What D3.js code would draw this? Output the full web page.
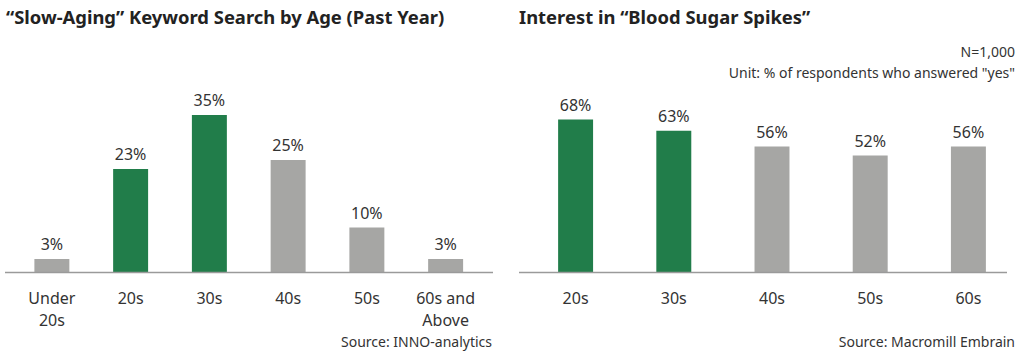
<!DOCTYPE html>
<html>
<head>
<meta charset="utf-8">
<script src="https://cdn.jsdelivr.net/npm/d3@7"></script>
<style>
	body { margin: 0; background: #fff; }
	svg text { font-family: "Noto Sans", sans-serif; fill: #333; }
	.title { font-weight: bold; font-size: 18.4px; fill: #222; }
	.val { font-size: 16px; text-anchor: middle; }
	.cat { font-size: 16px; text-anchor: middle; }
	.note { font-size: 14px; text-anchor: end; }
</style>
</head>
<body>
<div id="chart"></div>
<script>
"use strict"

// left chart: slow-aging keyword search
let ageCats = ["Under 20s", "20s", "30s", "40s", "50s", "60s and Above"];
let ageLabels = [["Under", "20s"], ["20s"], ["30s"], ["40s"], ["50s"], ["60s and", "Above"]];
let searchShare = [3, 23, 35, 25, 10, 3];
let searchHighlight = [false, true, true, false, false, false];

// right chart: blood sugar spikes interest
let spikeCats = ["20s", "30s", "40s", "50s", "60s"];
let spikeShare = [68, 63, 56, 52, 56];
let spikeHighlight = [true, true, false, false, false];

let green = "#217d4a",
	grey = "#a6a6a4";

let svg = d3.select("#chart").append("svg")
	.attr("width", 1024)
	.attr("height", 364);

let baseY = 272.5, topY = 92.5;

function drawPanel(opt) {
	let g = svg.append("g").attr("transform", `translate(${opt.offset},0)`);

	let xScale = d3.scaleBand()
		.domain(opt.cats)
		.range(opt.bandRange)
		.paddingInner(opt.pad)
		.paddingOuter(opt.pad / 2);

	let yScale = d3.scaleLinear()
		.domain([0, opt.yMax])
		.range([baseY, topY]);

	let rows = opt.cats.map((c, i) => ({cat: c, v: opt.values[i], hi: opt.highlight[i], lab: opt.labels[i]}));
	let mid = c => xScale(c) + xScale.bandwidth() / 2;

	g.append("text")
		.attr("class", "title")
		.attr("x", opt.titleX)
		.attr("y", 24)
		.text(opt.title);

	g.selectAll(".bar")
		.data(rows)
		.enter().append("rect")
			.attr("class", "bar")
			.attr("x", d => xScale(d.cat))
			.attr("y", d => yScale(d.v))
			.attr("width", xScale.bandwidth())
			.attr("height", d => baseY - yScale(d.v))
			.attr("fill", d => d.hi ? green : grey);

	g.selectAll(".val")
		.data(rows)
		.enter().append("text")
			.attr("class", "val")
			.attr("x", d => mid(d.cat))
			.attr("y", d => yScale(d.v) - 9)
			.text(d => d.v + "%");

	// baseline
	g.append("line")
		.attr("x1", opt.axisRange[0])
		.attr("x2", opt.axisRange[1])
		.attr("y1", baseY)
		.attr("y2", baseY)
		.attr("stroke", "#9a9a9a")
		.attr("stroke-width", 1.5);

	// category labels, one text per line
	let lines = [];
	rows.forEach(d => d.lab.forEach((t, i) => lines.push({t, x: mid(d.cat), i})));
	g.selectAll(".cat")
		.data(lines)
		.enter().append("text")
			.attr("class", "cat")
			.attr("x", d => d.x)
			.attr("y", d => 304 + d.i * 22)
			.text(d => d.t);

	opt.notes.forEach(n => {
		g.append("text")
			.attr("class", "note")
			.attr("x", n.x)
			.attr("y", n.y)
			.text(n.text);
	});
}

drawPanel({
	offset: 0,
	title: "\u201CSlow-Aging\u201D Keyword Search by Age (Past Year)",
	titleX: 6,
	cats: ageCats,
	labels: ageLabels,
	values: searchShare,
	highlight: searchHighlight,
	yMax: 40,
	bandRange: [12.5, 485],
	pad: 0.556,
	axisRange: [5, 493],
	notes: [{x: 492, y: 347, text: "Source: INNO-analytics"}]
});

drawPanel({
	offset: 512,
	title: "Interest in \u201CBlood Sugar Spikes\u201D",
	titleX: 7,
	cats: spikeCats,
	labels: spikeCats.map(c => [c]),
	values: spikeShare,
	highlight: spikeHighlight,
	yMax: 80,
	bandRange: [14.5, 505.5],
	pad: 0.644,
	axisRange: [7, 495],
	notes: [
		{x: 503, y: 57, text: "N=1,000"},
		{x: 503, y: 78, text: "Unit: % of respondents who answered \"yes\""},
		{x: 503, y: 347, text: "Source: Macromill Embrain"}
	]
});
</script>
</body>
</html>
